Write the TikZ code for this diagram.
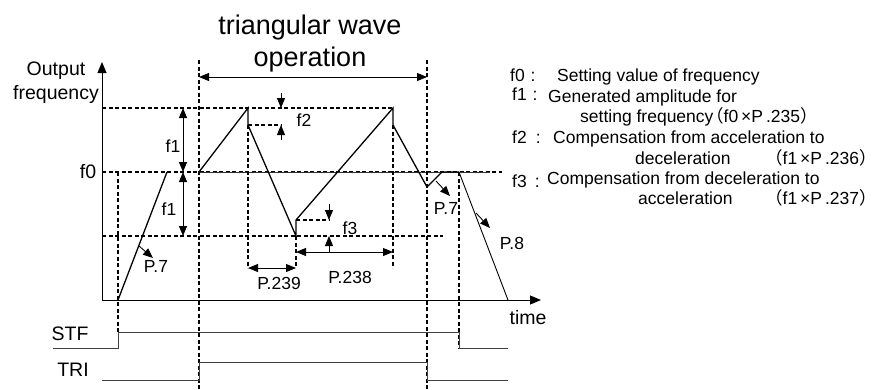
\documentclass[tikz,border=0pt]{standalone}
\usepackage{fontspec}
\setmainfont{Liberation Sans}
\newfontfamily\cjk{Noto Sans CJK TC}
\usepackage{tikz}
\usetikzlibrary{arrows.meta}
\newcommand\ttlfont{\fontsize{27}{32}\selectfont}
\newcommand\axfont{\fontsize{19.5}{24}\selectfont}
\newcommand\lblfont{\fontsize{17.5}{20}\selectfont}
\newcommand\legfont{\fontsize{17.5}{20}\selectfont}
\tikzset{
  wave/.style={line width=1.3pt},
  guide/.style={line width=1.1pt, dash pattern=on 4pt off 2.5pt},
  lvl/.style={line width=0.9pt, black!80},
  sig/.style={line width=0.9pt, black!75},
  axis/.style={-{Triangle[length=11pt,width=9pt]}, line width=1pt},
  dim/.style={{Triangle[length=10pt,width=8pt]}-{Triangle[length=10pt,width=8pt]}, line width=0.9pt},
  ptr/.style={-{Triangle[length=10pt,width=8pt]}, line width=0.9pt},
  lbl/.style={font=\lblfont, inner sep=0pt},
  leg/.style={font=\legfont, anchor=west, inner sep=0pt, text height=12pt, text depth=4pt},
}

\begin{document}
\begin{tikzpicture}[x=1pt,y=-1pt]
  \useasboundingbox (0,0) rectangle (879,389);
  % axes
  \coordinate (O) at (102,300);
  \coordinate (ytip) at (102,62);
  \coordinate (xtip) at (541,300);
  \draw[axis] (O) -- (ytip);
  \draw[axis] (O) -- (xtip);
  \node[font=\axfont, align=center, inner sep=0pt] (ylab) at (56,83) {Output\\frequency};
  \node[font=\axfont, inner sep=0pt] (xlab) at (528,318) {time};
  % levels
  \coordinate (top) at (102,108);
  \coordinate (mid) at (102,172);
  \coordinate (low) at (102,236);
  \node[font=\axfont, inner sep=0pt] (f0lab) at (88,172) {f0};
  % wave points
  \coordinate (s1) at (118,300);
  \coordinate (a1) at (167,172);
  \coordinate (t1) at (199,172);
  \coordinate (p1) at (248,108);
  \coordinate (p1b) at (248,125);
  \coordinate (v1) at (296,236);
  \coordinate (v1b) at (296,220);
  \coordinate (p2) at (393,108);
  \coordinate (p2b) at (393,125);
  \coordinate (v2) at (427,187);
  \coordinate (r2) at (442,172);
  \coordinate (e1) at (459,172);
  \coordinate (e2) at (508,300);
  % dashed guides
  \draw[guide] (top) -- (p2);
  \draw[guide] (mid) -- (502,172);
  \draw[guide] (low) -- (443,236);
  \draw[lvl] (t1) -- (490,172);
  \draw[guide] (p1b) -- (281,125);
  \draw[guide] (v1b) -- (329,220);
  \draw[guide] (s1 |- mid) -- (118,332);
  \draw[guide] (199,60) -- (199,389);
  \draw[guide] (427,60) -- (427,389);
  \draw[guide] (p1b) -- (248,268);
  \draw[guide] (v1) -- (296,268);
  \draw[guide] (p2b) -- (393,268);
  \draw[guide] (e1) -- (459,348);
  % output frequency
  \draw[wave] (s1) -- (a1);
  \draw[wave] (t1) -- (p1) -- (p1b) -- (v1) -- (v1b) -- (p2) -- (p2b) -- (v2) -- (r2) -- (e1);
  \draw[line width=0.9pt] (e1) -- (e2);
  % dimensions
  \node[font=\ttlfont, align=center, inner sep=0pt] (title) at (310,44) {triangular wave\\operation};
  \draw[dim] (199,77) -- (427,77);
  \draw[dim] (183,108) -- (183,172);
  \draw[dim] (183,172) -- (183,236);
  \node[lbl] (f1a) at (173,146) {f1};
  \node[lbl] (f1b) at (169,209) {f1};
  \draw[ptr] (281,93) -- (281,108);
  \draw[ptr] (281,140) -- (281,125);
  \node[lbl] (f2lab) at (304,120) {f2};
  \draw[ptr] (329,204) -- (329,220);
  \draw[ptr] (329,252) -- (329,236);
  \node[lbl] (f3lab) at (350,228) {f3};
  \draw[dim] (248,268) -- (296,268);
  \draw[dim] (296,252) -- (393,252);
  \node[lbl] (p239) at (279,283) {P.239};
  \node[lbl] (p238) at (350,277) {P.238};
  % acceleration / deceleration times
  \draw[ptr] (139,246) -- (153,258);
  \node[lbl] (p7a) at (156,266) {P.7};
  \draw[ptr] (436,181) -- (450,196);
  \node[lbl] (p7b) at (446,208) {P.7};
  \draw[ptr] (476,213) -- (490,228);
  \node[lbl] (p8) at (512,243) {P.8};
  % signals
  \node[font=\axfont, inner sep=0pt] (stf) at (70,334) {STF};
  \node[font=\axfont, inner sep=0pt] (tri) at (73,370) {TRI};
  \draw[sig] (53,348) -- (118,348) -- (118,332) -- (459,332) -- (459,348) -- (508,348);
  \draw[sig] (102,380) -- (199,380) -- (199,362) -- (427,362) -- (427,380) -- (508,380);
  % legend
  \node[leg] (k0) at (510,77) {f0\,\,:};
  \node[leg] (d0) at (557,77) {Setting value of frequency};
  \node[leg] (k1) at (512,96) {f1\,\,:};
  \node[leg] (d1) at (548,98) {Generated amplitude for};
  \node[leg] (d1b) at (580,118) {setting frequency};
  \node[leg] (r1) at (706,118) {{\cjk （}f0\,×P\,.235{\cjk ）}};
  \node[leg] (k2) at (512,139) {f2\hspace{9pt}:};
  \node[leg] (d2) at (553,139) {Compensation from acceleration to};
  \node[leg] (d2b) at (635,160) {deceleration};
  \node[leg] (r2l) at (765,160) {{\cjk （}f1\,×P\,.236{\cjk ）}};
  \node[leg] (k3) at (512,183) {f3\hspace{8pt}:};
  \node[leg] (d3) at (547,180) {Compensation from deceleration to};
  \node[leg] (d3b) at (638,200) {acceleration};
  \node[leg] (r3l) at (765,200) {{\cjk （}f1\,×P\,.237{\cjk ）}};
\end{tikzpicture}
\end{document}
